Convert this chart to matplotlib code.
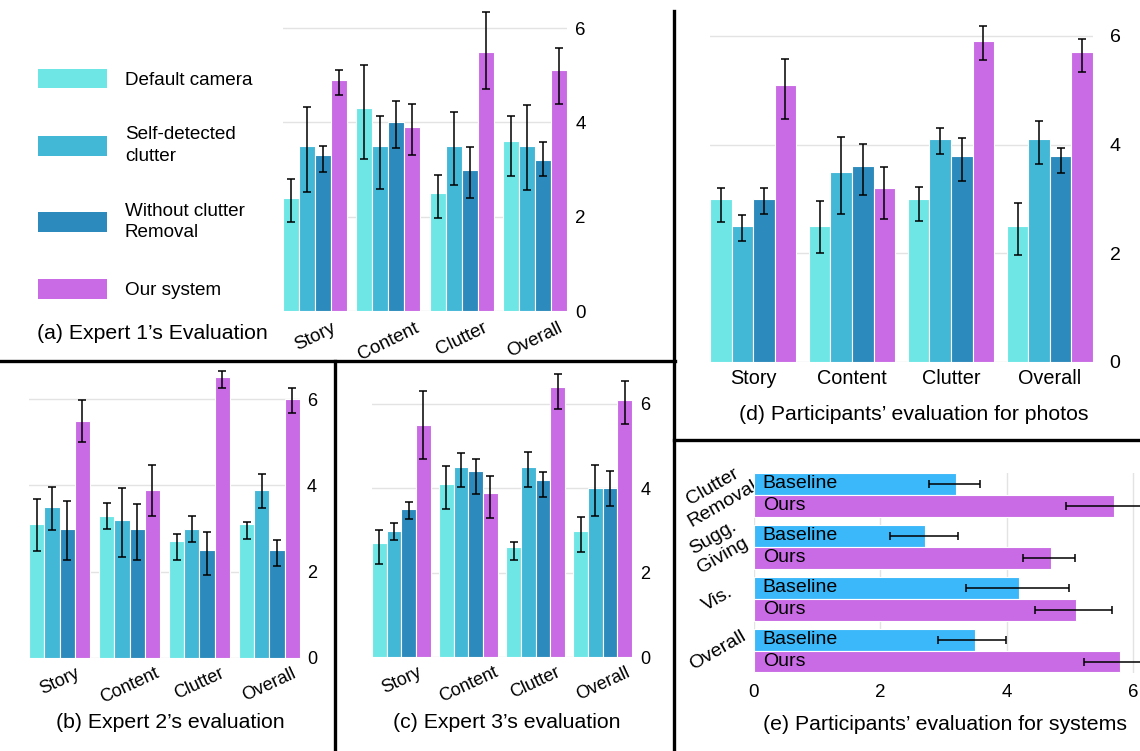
import numpy as np
import matplotlib
matplotlib.use("Agg")
import matplotlib.pyplot as plt
from matplotlib.lines import Line2D
from matplotlib.patches import Patch

plt.rcParams['font.family'] = ['Liberation Sans', 'DejaVu Sans']

W, H = 1140, 751

categories = ["Story", "Content", "Clutter", "Overall"]
series_names = ["Default camera", "Self-detected\nclutter", "Without clutter\nRemoval", "Our system"]
series_colors = ["#6ee6e6", "#42b7d6", "#2d8abc", "#c96be4"]

# rows = series (default, self-detected, without removal, ours), cols = categories
expert1_mean = [[2.4, 4.3, 2.5, 3.6], [3.5, 3.5, 3.5, 3.5], [3.3, 4.0, 3.0, 3.2], [4.9, 3.9, 5.5, 5.1]]
expert1_lo = [[1.89, 3.22, 1.98, 2.87], [2.52, 2.59, 2.67, 2.56], [2.94, 3.45, 2.39, 2.87], [4.58, 3.30, 4.70, 4.39]]
expert1_hi = [[2.80, 5.21, 2.88, 4.14], [4.32, 4.13, 4.21, 4.37], [3.49, 4.45, 3.47, 3.59], [5.12, 4.38, 6.33, 5.57]]

expert2_mean = [[3.1, 3.3, 2.7, 3.1], [3.5, 3.2, 3.0, 3.9], [3.0, 3.0, 2.5, 2.5], [5.5, 3.9, 6.5, 6.0]]
expert2_lo = [[2.49, 2.99, 2.26, 2.76], [2.96, 2.34, 2.69, 3.47], [2.26, 2.28, 1.93, 2.14], [5.00, 3.28, 6.25, 5.67]]
expert2_hi = [[3.68, 3.58, 2.88, 3.16], [3.95, 3.93, 3.28, 4.26], [3.64, 3.56, 2.92, 2.74], [5.98, 4.46, 6.66, 6.25]]

expert3_mean = [[2.7, 4.1, 2.6, 3.0], [3.0, 4.5, 4.5, 4.0], [3.5, 4.4, 4.2, 4.0], [5.5, 3.9, 6.4, 6.1]]
expert3_lo = [[2.21, 3.50, 2.31, 2.50], [2.77, 4.03, 4.04, 3.35], [3.27, 3.87, 3.79, 3.59], [4.70, 3.29, 5.89, 5.53]]
expert3_hi = [[3.01, 4.52, 2.72, 3.32], [3.17, 4.83, 4.85, 4.56], [3.68, 4.69, 4.39, 4.40], [6.31, 4.30, 6.70, 6.54]]

photos_mean = [[3.0, 2.5, 3.0, 2.5], [2.5, 3.5, 4.1, 4.1], [3.0, 3.6, 3.8, 3.8], [5.1, 3.2, 5.9, 5.7]]
photos_lo = [[2.57, 2.01, 2.60, 1.97], [2.22, 2.73, 3.83, 3.64], [2.73, 3.08, 3.34, 3.47], [4.48, 2.64, 5.55, 5.33]]
photos_hi = [[3.21, 2.96, 3.23, 2.92], [2.70, 4.15, 4.31, 4.43], [3.21, 4.02, 4.13, 3.94], [5.58, 3.59, 6.19, 5.95]]

sys_categories = ["Clutter\nRemoval", "Sugg.\nGiving", "Vis.", "Overall"]
sys_series = ["Baseline", "Ours"]
sys_colors = ["#3bb8fa", "#c96be4"]
sys_mean = [[3.2, 2.7, 4.2, 3.5], [5.7, 4.7, 5.1, 5.8]]
sys_lo = [[2.77, 2.15, 3.36, 2.92], [4.94, 4.26, 4.45, 5.23]]
sys_hi = [[3.58, 3.23, 4.98, 3.99], [6.46, 5.08, 5.67, 6.40]]

fig = plt.figure(figsize=(W / 100, H / 100), dpi=100)


def box(x0, x1, ytop, ybot):
    return fig.add_axes([x0 / W, 1 - ybot / H, (x1 - x0) / W, (ybot - ytop) / H])


GRID = "#e3e3e3"
ERR_KW = dict(ecolor="black", elinewidth=1.1, capsize=3, capthick=1.1)
TITLE_FS = 15.3


def bar_panel(x0, x1, y0px, y6px, ymax, mean, lo, hi, rot, xpad, ypad, fs=13, yfs=13):
    unit = (y0px - y6px) / 6.0
    ax = box(x0, x1, y0px - ymax * unit, y0px)
    w = 0.218
    x = np.arange(len(categories))
    for j in range(4):
        m = np.array(mean[j]); l = np.array(lo[j]); h = np.array(hi[j])
        ax.bar(x + (j - 1.5) * w, m, w, color=series_colors[j], edgecolor="white",
               linewidth=0.8, zorder=2)
        ax.errorbar(x + (j - 1.5) * w, m, yerr=[m - l, h - m], fmt="none", zorder=3, **ERR_KW)
    ax.set_xlim(-2 * w, 3 + 2 * w)
    ax.set_ylim(0, ymax)
    ax.set_yticks([0, 2, 4, 6])
    ax.yaxis.tick_right()
    ax.set_xticks(x)
    ax.set_xticklabels(categories, rotation=rot, fontsize=fs)
    ax.tick_params(axis="x", length=0, pad=xpad)
    ax.tick_params(axis="y", length=0, pad=ypad, labelsize=yfs)
    ax.yaxis.grid(True, color=GRID, linewidth=1, zorder=0)
    ax.set_axisbelow(True)
    for s in ax.spines.values():
        s.set_visible(False)
    return ax


# (a)
bar_panel(283, 567, 311, 28, 6.45, expert1_mean, expert1_lo, expert1_hi, 26, 6, 6, fs=13.5, yfs=13.5)
# (b)
bar_panel(29, 300, 658, 399, 6.75, expert2_mean, expert2_lo, expert2_hi, 25, 5, 5, fs=13, yfs=13)
# (c)
bar_panel(372, 632, 657, 404, 6.8, expert3_mean, expert3_lo, expert3_hi, 25, 5, 6, fs=13, yfs=13)
# (d)
bar_panel(710, 1093, 362, 36, 6.3, photos_mean, photos_lo, photos_hi, 0, 5, 12, fs=14.3, yfs=14)

# (e)
axe = box(754, 1140, 473, 673)
bh = 0.42
yc = np.arange(len(sys_categories))
for j in range(2):
    m = np.array(sys_mean[j]); l = np.array(sys_lo[j]); h = np.array(sys_hi[j])
    ypos = yc + (j - 0.5) * bh
    axe.barh(ypos, m, bh, color=sys_colors[j], edgecolor="white", linewidth=0.8, zorder=2)
    axe.errorbar(m, ypos, xerr=[m - l, h - m], fmt="none", zorder=3, **ERR_KW)
    for yy in ypos:
        axe.text(0.14, yy, sys_series[j], va="center", ha="left", fontsize=14, zorder=4)
axe.set_ylim(3 + bh + 0.01, -bh)
axe.set_xlim(0, 6.11)
axe.set_xticks([0, 2, 4, 6])
axe.set_yticks(yc)
axe.set_yticklabels(sys_categories, rotation=30, ha="center", va="center",
                    multialignment="center", fontsize=14)
axe.tick_params(axis="y", length=0, pad=26)
axe.tick_params(axis="x", length=0, pad=8, labelsize=13.5)
axe.xaxis.grid(True, color=GRID, linewidth=1, zorder=0)
axe.set_axisbelow(True)
for s in axe.spines.values():
    s.set_visible(False)

# Legend
handles = [Patch(facecolor=c, edgecolor="none") for c in series_colors]
leg = fig.legend(handles, series_names, loc="upper left", bbox_to_anchor=(38 / W, 1 - 68.5 / H),
                 frameon=False, fontsize=13.6, handlelength=3.65, handleheight=1.22,
                 handletextpad=0.95, labelspacing=2.0, borderpad=0, borderaxespad=0)
for t in leg.get_texts():
    t.set_linespacing(1.35)

# Titles
fig.text(37 / W, 1 - 333 / H, "(a) Expert 1’s Evaluation", fontsize=TITLE_FS, ha="left", va="center")
fig.text(170 / W, 1 - 722 / H, "(b) Expert 2’s evaluation", fontsize=TITLE_FS, ha="center", va="center")
fig.text(507 / W, 1 - 722 / H, "(c) Expert 3’s evaluation", fontsize=TITLE_FS, ha="center", va="center")
fig.text(914 / W, 1 - 414 / H, "(d) Participants’ evaluation for photos", fontsize=TITLE_FS, ha="center", va="center")
fig.text(945 / W, 1 - 725 / H, "(e) Participants’ evaluation for systems", fontsize=TITLE_FS, ha="center", va="center")

# Panel dividers
def hline(y, x0, x1):
    fig.add_artist(Line2D([x0 / W, x1 / W], [1 - y / H, 1 - y / H], color="black", lw=2.4,
                          transform=fig.transFigure))

def vline(x, y0, y1):
    fig.add_artist(Line2D([x / W, x / W], [1 - y0 / H, 1 - y1 / H], color="black", lw=2.4,
                          transform=fig.transFigure))

hline(361, 0, 675)
vline(335, 361, 751)
vline(674, 11, 751)
hline(440, 674, 1140)

fig.savefig("out.png", dpi=100, facecolor="white")
